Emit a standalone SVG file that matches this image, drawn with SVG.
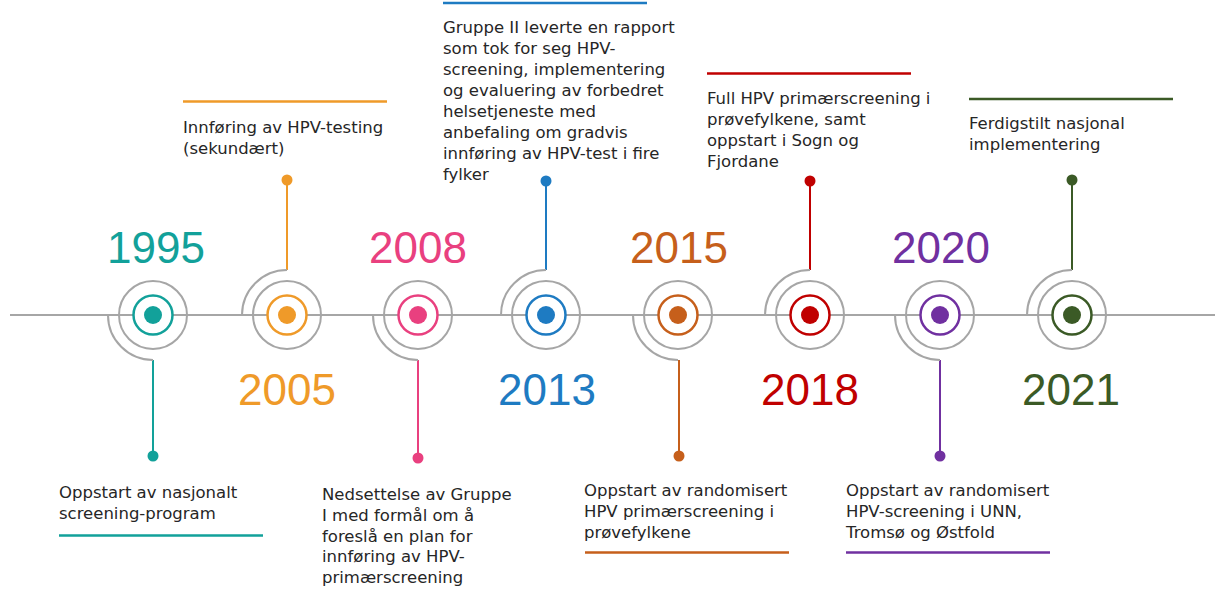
<svg xmlns="http://www.w3.org/2000/svg" width="1215" height="596" viewBox="0 0 1215 596">
  <style>
    .axis { stroke: #A6A6A6; stroke-width: 2; fill: none; }
    .ring-outer { stroke: #A6A6A6; stroke-width: 2; fill: none; }
    .arc { stroke: #A6A6A6; stroke-width: 2; fill: none; }
    .stem { stroke-width: 2; fill: none; }
    .rule { stroke-width: 2.5; }
    .year { font-family: "Liberation Sans", Arial, sans-serif; font-size: 44px; text-anchor: middle; }
    .desc { font-family: "DejaVu Sans", "Liberation Sans", sans-serif; font-size: 16.5px; fill: #262626; }
    .c1995 { stroke: #12A19A; fill: #12A19A; }
    .c2005 { stroke: #EF9A29; fill: #EF9A29; }
    .c2008 { stroke: #E9407F; fill: #E9407F; }
    .c2013 { stroke: #1E7BC2; fill: #1E7BC2; }
    .c2015 { stroke: #C65F1B; fill: #C65F1B; }
    .c2018 { stroke: #C00000; fill: #C00000; }
    .c2020 { stroke: #7030A0; fill: #7030A0; }
    .c2021 { stroke: #3B5A26; fill: #3B5A26; }
    /* coloured ring: white inside so the axis is hidden behind it */
    circle.ring-inner { stroke-width: 2.5; fill: #FFFFFF; }
    circle.dot { stroke: none; }
  </style>

  <!-- timeline axis and stems leading to the milestone texts -->
  <g id="connectors">
    <line class="axis" x1="10" y1="315" x2="1215" y2="315"/>
    <line class="stem c1995" x1="153" y1="360" x2="153" y2="456"/>
    <circle class="dot c1995" cx="153" cy="456" r="5.5"/>
    <line class="stem c2005" x1="287" y1="270" x2="287" y2="180"/>
    <circle class="dot c2005" cx="287" cy="180" r="5.5"/>
    <line class="stem c2008" x1="418" y1="360" x2="418" y2="458"/>
    <circle class="dot c2008" cx="418" cy="458" r="5.5"/>
    <line class="stem c2013" x1="546" y1="270" x2="546" y2="181"/>
    <circle class="dot c2013" cx="546" cy="181" r="5.5"/>
    <line class="stem c2015" x1="679" y1="360" x2="679" y2="456"/>
    <circle class="dot c2015" cx="679" cy="456" r="5.5"/>
    <line class="stem c2018" x1="810" y1="270" x2="810" y2="181"/>
    <circle class="dot c2018" cx="810" cy="181" r="5.5"/>
    <line class="stem c2020" x1="940" y1="360" x2="940" y2="456"/>
    <circle class="dot c2020" cx="940" cy="456" r="5.5"/>
    <line class="stem c2021" x1="1072" y1="270" x2="1072" y2="180"/>
    <circle class="dot c2021" cx="1072" cy="180" r="5.5"/>
  </g>

  <!-- 1995 -->
  <g id="node-1995">
    <path class="arc" d="M108 315 A45 45 0 0 0 153 360"/>
    <circle class="ring-outer" cx="153" cy="315" r="34"/>
    <circle class="ring-inner c1995" cx="153" cy="315" r="19.5"/>
    <circle class="dot c1995" cx="153" cy="315" r="9"/>
    <text class="year" x="156" y="263" fill="#12A19A">1995</text>
    <text class="desc" x="59" y="498"><tspan x="59">Oppstart av nasjonalt</tspan><tspan x="59" dy="21">screening-program</tspan></text>
    <line class="rule c1995" x1="59" y1="535.5" x2="263" y2="535.5"/>
  </g>

  <!-- 2005 -->
  <g id="node-2005">
    <path class="arc" d="M242 315 A45 45 0 0 1 287 270"/>
    <circle class="ring-outer" cx="287" cy="315" r="34"/>
    <circle class="ring-inner c2005" cx="287" cy="315" r="19.5"/>
    <circle class="dot c2005" cx="287" cy="315" r="9"/>
    <text class="year" x="287" y="405" fill="#EF9A29">2005</text>
    <line class="rule c2005" x1="183" y1="101.5" x2="387" y2="101.5"/>
    <text class="desc" x="183" y="133"><tspan x="183">Innføring av HPV-testing</tspan><tspan x="183" dy="21">(sekundært)</tspan></text>
  </g>

  <!-- 2008 -->
  <g id="node-2008">
    <path class="arc" d="M373 315 A45 45 0 0 0 418 360"/>
    <circle class="ring-outer" cx="418" cy="315" r="34"/>
    <circle class="ring-inner c2008" cx="418" cy="315" r="19.5"/>
    <circle class="dot c2008" cx="418" cy="315" r="9"/>
    <text class="year" x="418" y="263" fill="#E9407F">2008</text>
    <text class="desc" x="322" y="500"><tspan x="322">Nedsettelse av Gruppe</tspan><tspan x="322" dy="20.8">I med formål om å</tspan><tspan x="322" dy="20.8">foreslå en plan for</tspan><tspan x="322" dy="20.8">innføring av HPV-</tspan><tspan x="322" dy="20.8">primærscreening</tspan></text>
  </g>

  <!-- 2013 -->
  <g id="node-2013">
    <path class="arc" d="M501 315 A45 45 0 0 1 546 270"/>
    <circle class="ring-outer" cx="546" cy="315" r="34"/>
    <circle class="ring-inner c2013" cx="546" cy="315" r="19.5"/>
    <circle class="dot c2013" cx="546" cy="315" r="9"/>
    <text class="year" x="547" y="405" fill="#1E7BC2">2013</text>
    <line class="rule c2013" x1="443" y1="3" x2="647" y2="3"/>
    <text class="desc" x="443" y="33"><tspan x="443">Gruppe II leverte en rapport</tspan><tspan x="443" dy="21">som tok for seg HPV-</tspan><tspan x="443" dy="21">screening, implementering</tspan><tspan x="443" dy="21">og evaluering av forbedret</tspan><tspan x="443" dy="21">helsetjeneste med</tspan><tspan x="443" dy="21">anbefaling om gradvis</tspan><tspan x="443" dy="21">innføring av HPV-test i fire</tspan><tspan x="443" dy="21">fylker</tspan></text>
  </g>

  <!-- 2015 -->
  <g id="node-2015">
    <path class="arc" d="M633 315 A45 45 0 0 0 678 360"/>
    <circle class="ring-outer" cx="678" cy="315" r="34"/>
    <circle class="ring-inner c2015" cx="678" cy="315" r="19.5"/>
    <circle class="dot c2015" cx="678" cy="315" r="9"/>
    <text class="year" x="679" y="263" fill="#C65F1B">2015</text>
    <text class="desc" x="584" y="496"><tspan x="584">Oppstart av randomisert</tspan><tspan x="584" dy="21">HPV primærscreening i</tspan><tspan x="584" dy="21">prøvefylkene</tspan></text>
    <line class="rule c2015" x1="585" y1="552.5" x2="789" y2="552.5"/>
  </g>

  <!-- 2018 -->
  <g id="node-2018">
    <path class="arc" d="M765 315 A45 45 0 0 1 810 270"/>
    <circle class="ring-outer" cx="810" cy="315" r="34"/>
    <circle class="ring-inner c2018" cx="810" cy="315" r="19.5"/>
    <circle class="dot c2018" cx="810" cy="315" r="9"/>
    <text class="year" x="810" y="405" fill="#C00000">2018</text>
    <line class="rule c2018" x1="707" y1="73.5" x2="911" y2="73.5"/>
    <text class="desc" x="707" y="104"><tspan x="707">Full HPV primærscreening i</tspan><tspan x="707" dy="21">prøvefylkene, samt</tspan><tspan x="707" dy="21">oppstart i Sogn og</tspan><tspan x="707" dy="21">Fjordane</tspan></text>
  </g>

  <!-- 2020 -->
  <g id="node-2020">
    <path class="arc" d="M895 315 A45 45 0 0 0 940 360"/>
    <circle class="ring-outer" cx="940" cy="315" r="34"/>
    <circle class="ring-inner c2020" cx="940" cy="315" r="19.5"/>
    <circle class="dot c2020" cx="940" cy="315" r="9"/>
    <text class="year" x="941" y="263" fill="#7030A0">2020</text>
    <text class="desc" x="846" y="496"><tspan x="846">Oppstart av randomisert</tspan><tspan x="846" dy="21">HPV-screening i UNN,</tspan><tspan x="846" dy="21">Tromsø og Østfold</tspan></text>
    <line class="rule c2020" x1="846" y1="552.5" x2="1050" y2="552.5"/>
  </g>

  <!-- 2021 -->
  <g id="node-2021">
    <path class="arc" d="M1027 315 A45 45 0 0 1 1072 270"/>
    <circle class="ring-outer" cx="1072" cy="315" r="34"/>
    <circle class="ring-inner c2021" cx="1072" cy="315" r="19.5"/>
    <circle class="dot c2021" cx="1072" cy="315" r="9"/>
    <text class="year" x="1071" y="405" fill="#3B5A26">2021</text>
    <line class="rule c2021" x1="969" y1="99" x2="1173" y2="99"/>
    <text class="desc" x="969" y="129"><tspan x="969">Ferdigstilt nasjonal</tspan><tspan x="969" dy="21">implementering</tspan></text>
  </g>
</svg>
